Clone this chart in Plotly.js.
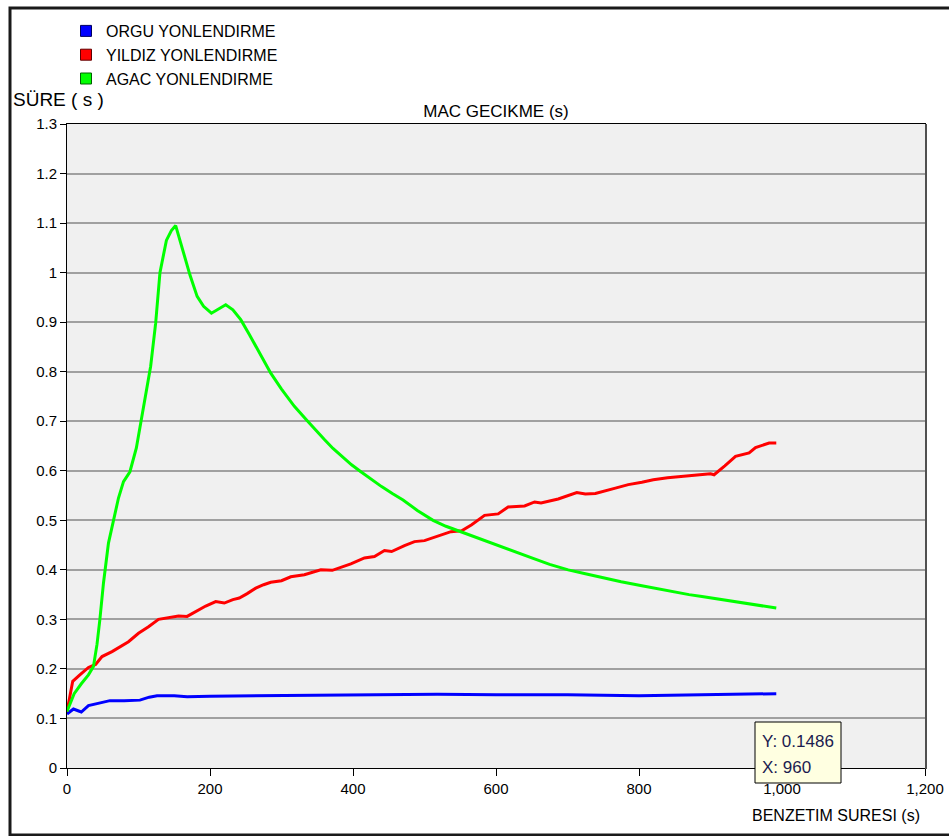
<!DOCTYPE html>
<html>
<head>
<meta charset="utf-8">
<script src="https://cdn.plot.ly/plotly-3.0.1.min.js"></script>
<style>html,body{margin:0;padding:0;background:#fff;}#chart{width:949px;height:836px;}</style>
</head>
<body>
<div id="chart"></div>
<script>
// ---- data ----
const seriesNames = ["ORGU YONLENDIRME", "YILDIZ YONLENDIRME", "AGAC YONLENDIRME"];
const seriesColors = ["#0000ff", "#ff0000", "#00ff00"];
const seriesEdge = ["#000060", "#600000", "#006000"];

const orguX = [0, 9, 20, 30, 45, 60, 80, 102, 115, 126, 150, 168, 200, 271, 350, 450, 518, 600, 700, 800, 860, 900, 960, 992];
const orguY = [0.109, 0.119, 0.113, 0.126, 0.131, 0.136, 0.136, 0.137, 0.143, 0.146, 0.146, 0.144, 0.145, 0.146, 0.146, 0.148, 0.149, 0.148, 0.148, 0.146, 0.147, 0.148, 0.1486, 0.150];

const yildizX = [0, 8, 18, 30, 40, 49, 63, 75, 86, 100, 114, 128, 142, 156, 168, 182, 194, 208, 220, 232, 241, 252, 264, 275, 285, 300, 313, 332, 345, 355, 371, 384, 397, 416, 430, 444, 454, 472, 486, 500, 519, 537, 552, 566, 584, 603, 617, 640, 654, 663, 687, 713, 725, 739, 767, 785, 804, 820, 840, 865, 885, 900, 905, 920, 935, 954, 963, 982, 992];
const yildizY = [0.114, 0.175, 0.188, 0.203, 0.209, 0.225, 0.235, 0.245, 0.255, 0.272, 0.285, 0.300, 0.303, 0.307, 0.306, 0.318, 0.327, 0.336, 0.333, 0.340, 0.343, 0.352, 0.363, 0.370, 0.375, 0.378, 0.386, 0.390, 0.395, 0.400, 0.399, 0.405, 0.412, 0.424, 0.427, 0.439, 0.437, 0.449, 0.457, 0.459, 0.469, 0.477, 0.479, 0.491, 0.510, 0.513, 0.527, 0.529, 0.537, 0.535, 0.543, 0.556, 0.553, 0.554, 0.565, 0.572, 0.577, 0.582, 0.586, 0.590, 0.592, 0.594, 0.592, 0.610, 0.629, 0.636, 0.647, 0.656, 0.656];

const agacX = [0, 10, 20, 30, 37, 42, 46, 51, 58, 65, 72, 79, 88, 97, 105, 112, 117, 124, 130, 139, 146, 152, 158, 163, 172, 182, 191, 202, 212, 222, 232, 243, 255, 270, 285, 300, 318, 336, 348, 360, 372, 385, 398, 411, 425, 440, 455, 470, 490, 512, 530, 552, 580, 608, 630, 650, 675, 701, 725, 748, 775, 804, 825, 850, 870, 888, 915, 940, 965, 992];
const agacY = [0.114, 0.150, 0.170, 0.188, 0.205, 0.250, 0.300, 0.373, 0.454, 0.501, 0.545, 0.578, 0.598, 0.646, 0.710, 0.770, 0.811, 0.898, 1.000, 1.065, 1.085, 1.095, 1.065, 1.040, 0.995, 0.952, 0.932, 0.918, 0.926, 0.935, 0.925, 0.905, 0.875, 0.835, 0.797, 0.765, 0.730, 0.701, 0.681, 0.663, 0.645, 0.628, 0.612, 0.598, 0.583, 0.568, 0.554, 0.541, 0.520, 0.500, 0.488, 0.476, 0.461, 0.446, 0.434, 0.424, 0.411, 0.400, 0.392, 0.384, 0.376, 0.368, 0.362, 0.356, 0.350, 0.346, 0.340, 0.334, 0.329, 0.323];

const chartTitle = "MAC GECIKME (s)";
const yTitle = "SÜRE ( s )";
const xTitle = "BENZETIM SURESI (s)";
const tipY = "Y: 0.1486";
const tipX = "X: 960";

const xs = [orguX, yildizX, agacX];
const ys = [orguY, yildizY, agacY];

const FONT = "Liberation Sans, Arial, sans-serif";
const traces = [];
for (let i = 0; i < 3; i++) {
  traces.push({
    x: xs[i], y: ys[i], type: "scatter", mode: "lines",
    line: {color: seriesColors[i], width: 3},
    showlegend: false, hoverinfo: "skip"
  });
}
for (let i = 0; i < 3; i++) {
  traces.push({
    x: [null], y: [null], type: "scatter", mode: "markers",
    name: seriesNames[i], legendgroup: "g" + i,
    marker: {symbol: "square", size: 11, color: seriesColors[i], line: {color: seriesEdge[i], width: 1}},
    showlegend: true, hoverinfo: "skip"
  });
}

// plot area pixel helpers (for frame / tooltip placement only)
const L = 67, R = 925, T = 124, B = 768;
const px = v => (v - L) / (R - L);
const py = v => (B - v) / (B - T);

const layout = {
  width: 949, height: 836,
  margin: {l: L, r: 949 - R, t: T, b: 836 - B, pad: 0},
  paper_bgcolor: "#ffffff",
  plot_bgcolor: "#f0f0f0",
  font: {family: FONT, size: 15, color: "#000"},
  separators: ".,",
  title: {text: chartTitle, font: {family: FONT, size: 17, color: "#000"},
          x: 0.5, xref: "paper", xanchor: "center", y: 1 - 111 / 836, yanchor: "middle"},
  xaxis: {range: [0, 1200], dtick: 200, tick0: 0, tickformat: ",d",
          showgrid: false, zeroline: false, showline: true, linecolor: "#000", linewidth: 1, mirror: true,
          ticks: "outside", ticklen: 7, tickcolor: "#000", tickfont: {family: FONT, size: 15, color: "#000"},
          fixedrange: true},
  yaxis: {range: [0, 1.3], dtick: 0.1, tick0: 0,
          showgrid: true, gridcolor: "#a0a0a0", gridwidth: 2, zeroline: false,
          showline: true, linecolor: "#000", linewidth: 1, mirror: true,
          ticks: "outside", ticklen: 6, tickcolor: "#000", tickfont: {family: FONT, size: 15, color: "#000"},
          fixedrange: true},
  legend: {x: px(66), xanchor: "left", y: py(14), yanchor: "top",
           bgcolor: "rgba(0,0,0,0)", font: {family: FONT, size: 16, color: "#000"},
           traceorder: "grouped", tracegroupgap: 0, itemclick: false},
  showlegend: true,
  shapes: [
    {type: "rect", xref: "paper", yref: "paper", x0: px(10), x1: px(960), y0: py(835), y1: py(8),
     line: {color: "#1a1a1a", width: 3}, fillcolor: "rgba(0,0,0,0)", layer: "above"},
    {type: "line", xref: "paper", yref: "paper", x0: px(926), x1: px(926), y0: py(769), y1: py(124),
     line: {color: "#505050", width: 2}, layer: "above"},
    {type: "rect", xref: "paper", yref: "paper", x0: px(755), x1: px(841), y0: py(783), y1: py(722),
     line: {color: "#000", width: 1}, fillcolor: "#ffffe1", layer: "above"}
  ],
  annotations: [
    {text: yTitle, xref: "paper", yref: "paper", x: px(11), y: py(100), xanchor: "left", yanchor: "middle",
     showarrow: false, font: {family: FONT, size: 19, color: "#000"}},
    {text: xTitle, xref: "paper", yref: "paper", x: px(922), y: py(815), xanchor: "right", yanchor: "middle",
     showarrow: false, font: {family: FONT, size: 16, color: "#000"}},
    {text: tipY, xref: "paper", yref: "paper", x: px(760), y: py(741), xanchor: "left", yanchor: "middle",
     showarrow: false, font: {family: FONT, size: 17, color: "#1c1c50"}},
    {text: tipX, xref: "paper", yref: "paper", x: px(760), y: py(767), xanchor: "left", yanchor: "middle",
     showarrow: false, font: {family: FONT, size: 17, color: "#1c1c50"}}
  ]
};

Plotly.newPlot("chart", traces, layout, {displayModeBar: false, staticPlot: true});
</script>
</body>
</html>
